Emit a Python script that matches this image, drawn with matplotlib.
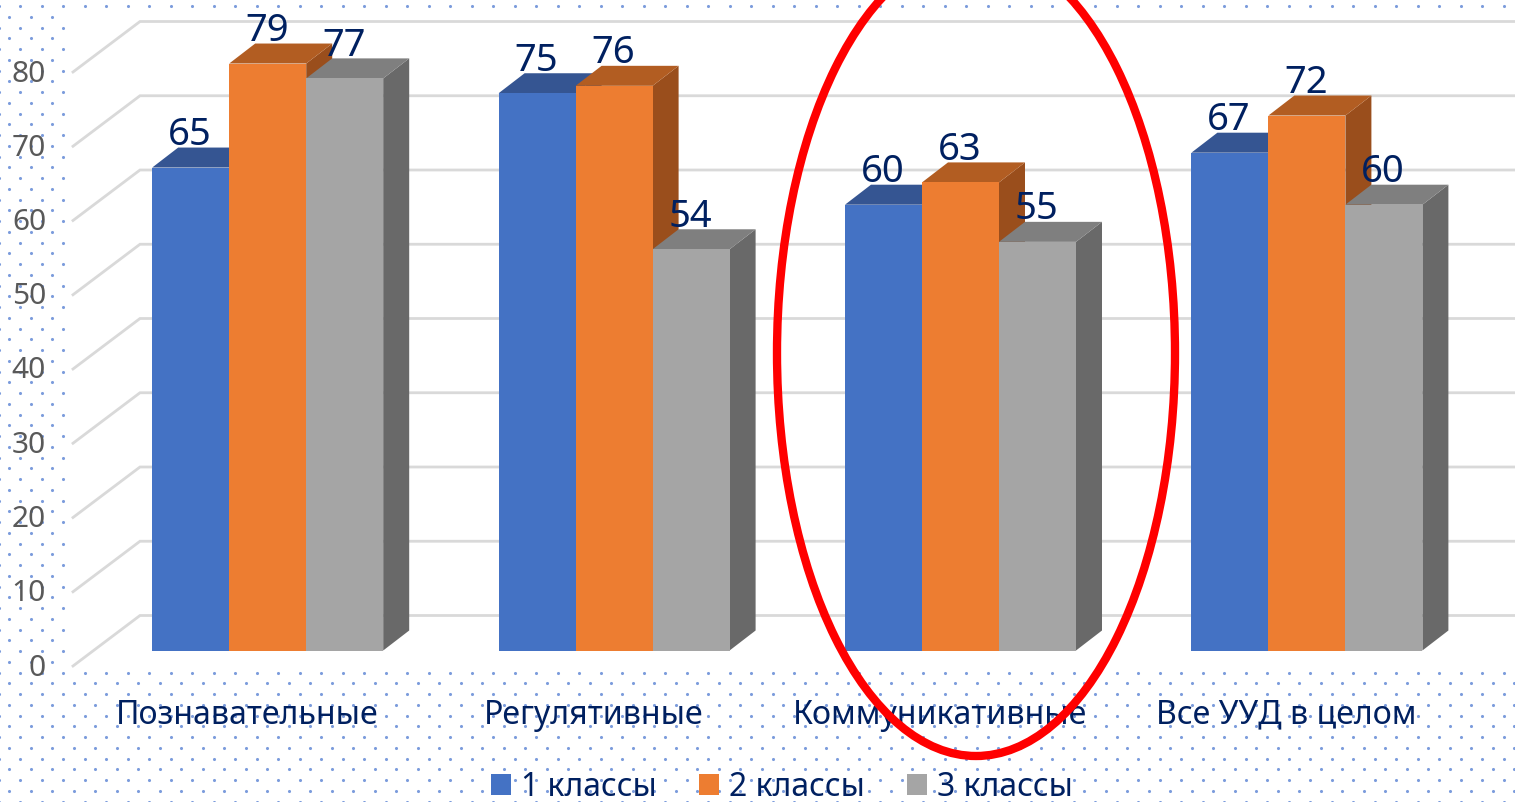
import matplotlib
matplotlib.use('Agg')
import matplotlib.pyplot as plt
from matplotlib.patches import Ellipse, Patch, Polygon, Rectangle
import numpy as np

# Data
categories = ['Познавательные', 'Регулятивные', 'Коммуникативные', 'Все УУД в целом']
series_names = ['1 классы', '2 классы', '3 классы']
grade1 = [65, 75, 60, 67]
grade2 = [79, 76, 63, 72]
grade3 = [77, 54, 55, 60]
y_ticks = [0, 10, 20, 30, 40, 50, 60, 70, 80]

front_colors = ['#4472C4', '#ED7D31', '#A5A5A5']
top_colors = ['#355592', '#B25D22', '#7F7F7F']
side_colors = ['#2F5597', '#9A4E1C', '#696969']
label_color = '#002060'
tick_color = '#595959'
grid_color = '#D9D9D9'

W, H = 1515, 802
plt.rcParams['font.family'] = ['Noto Sans', 'DejaVu Sans']

fig = plt.figure(figsize=(W / 100, H / 100), dpi=100)

# Background axes in pixels: dots, white panel
bg = fig.add_axes([0, 0, 1, 1])
bg.set_xlim(0, W)
bg.set_ylim(H, 0)
bg.axis('off')

rows = np.arange(6, H + 5, 10.75)
for i, ry in enumerate(rows):
    start = 20 if i % 2 == 0 else 9.25
    xs = np.arange(start - 21.5, W + 5, 21.5)
    bg.scatter(xs, np.full_like(xs, ry), s=5, color='#7C9CDC', linewidths=0, zorder=1)
bg.add_patch(Rectangle((68, 12), W - 68, 655, facecolor='white', edgecolor='none', zorder=2))

# Main axes: x in category units, y in chart values
scale = 7.43
zero_px = 650.5
group_step = 346.4
first_center = 267.7
ax = fig.add_axes([0, 0, 1, 1])
ax.set_xlim(-first_center / group_step, (W - first_center) / group_step)
ax.set_ylim((zero_px - H) / scale, zero_px / scale)
ax.axis('off')
ax.patch.set_alpha(0)

bar_w = 77 / group_step
depth_x = 26 / group_step
depth_y = 20 / scale

# Grid: back wall plus diagonal on the side wall
for v in y_ticks:
    y_back = 615.5 - 7.425 * v
    y_front = 666 - 7.425 * v
    bg.plot([73, 140, W], [y_front, y_back, y_back], color=grid_color, lw=2, zorder=3,
            solid_joinstyle='miter')
    bg.text(46, y_front + 2, str(v), ha='right', va='center', fontsize=21.5, color=tick_color, zorder=4)

# Bars, left to right so later ones cover earlier sides
series = [grade1, grade2, grade3]
for g in range(len(categories)):
    for s, values in enumerate(series):
        v = values[g]
        x0 = g + (s - 1.5) * bar_w
        x1 = x0 + bar_w
        ax.add_patch(Polygon([(x1, 0), (x1 + depth_x, depth_y), (x1 + depth_x, v + depth_y), (x1, v)],
                             facecolor=side_colors[s], edgecolor='none', zorder=5))
        ax.add_patch(Polygon([(x0, v), (x0 + depth_x, v + depth_y), (x1 + depth_x, v + depth_y), (x1, v)],
                             facecolor=top_colors[s], edgecolor='none', zorder=5))
        ax.add_patch(Rectangle((x0, 0), bar_w, v, facecolor=front_colors[s], edgecolor='none', zorder=5))

for g in range(len(categories)):
    for s, values in enumerate(series):
        ax.text(g + (s - 1) * bar_w - 0.8 / group_step, values[g] + 32.5 / scale, str(values[g]), ha='center',
                va='center', fontsize=27.5, color=label_color, zorder=7)
    ax.text(g - 20.7 / group_step, (zero_px - 715) / scale, categories[g], ha='center', va='center',
            fontsize=23.1, color=label_color, zorder=7)

# Red ellipse over everything
bg_over = Ellipse((976, 353), 398, 806, fill=False, edgecolor='#FF0000', lw=6,
                  transform=bg.transData, zorder=9)
ax.add_patch(bg_over)

handles = [Patch(facecolor=c, edgecolor='none') for c in front_colors]
ax.legend(handles, series_names, ncol=3, frameon=False, fontsize=23, labelcolor=label_color,
          loc='center', bbox_to_anchor=(782 / W, 1 - 787.5 / H), handlelength=0.64, handleheight=0.65,
          handletextpad=0.32, columnspacing=1.3, borderpad=0, borderaxespad=0)

fig.savefig('out.png', dpi=100)
